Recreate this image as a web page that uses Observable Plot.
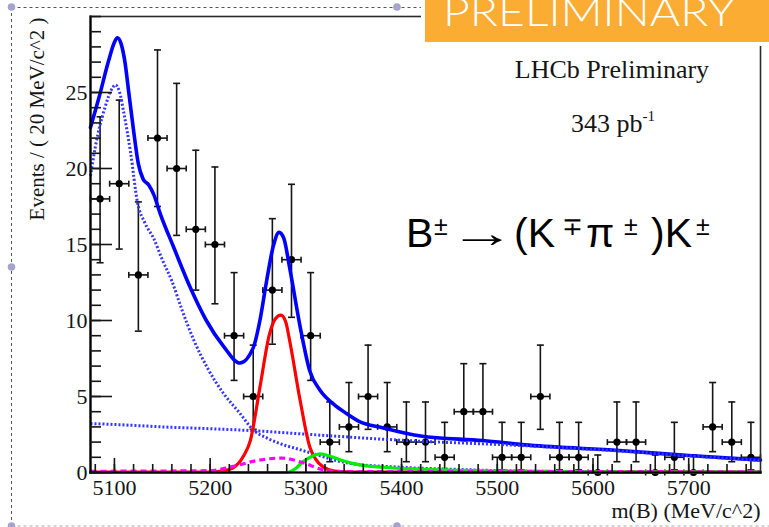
<!DOCTYPE html>
<html><head><meta charset="utf-8">
<script src="https://cdn.jsdelivr.net/npm/d3@7"></script>
<script src="https://cdn.jsdelivr.net/npm/@observablehq/plot@0.6"></script>
<style>
html,body{margin:0;padding:0;background:#fff;}
#chart{position:relative;width:769px;height:527px;overflow:hidden;}
</style>
</head><body><div id="chart"></div>
<script>
// ---- data ----
const binCenters = [5085,5105,5125,5145,5165,5185,5205,5225,5245,5265,5285,5305,5325,5345,5365,5385,5405,5425,5445,5465,5485,5505,5525,5545,5565,5585,5605,5625,5645,5665,5685,5705,5725,5745,5765];
const counts     = [18,19,13,22,20,16,15,9,5,12,14,9,2,3,5,3,2,2,1,4,4,1,1,5,1,1,0,2,2,0,1,0,3,2,1];
const errLow     = [13.8,14.7,9.3,17.5,15.6,12.0,11.1,6.06,2.84,8.44,10.21,6.06,0.71,1.37,2.84,1.37,0.71,0.71,0.17,2.09,2.09,0.17,0.17,2.84,0.17,0.17,0,0.71,0.71,0,0.17,0,1.37,0.71,0.17];
const errHigh    = [23.4,24.5,17.8,27.8,25.6,21.2,20.1,13.15,8.38,16.7,18.96,13.15,4.64,5.92,8.38,5.92,4.64,4.64,3.3,7.16,7.16,3.3,3.3,8.38,3.3,3.3,1.15,4.64,4.64,1.15,3.3,1.15,5.92,4.64,3.3];
const binHalfWidth = 10;

const xTickLabels = [5100,5200,5300,5400,5500,5600,5700];
const xMinorTicks = [5080,5100,5120,5140,5160,5180,5200,5220,5240,5260,5280,5300,5320,5340,5360,5380,5400,5420,5440,5460,5480,5500,5520,5540,5560,5580,5600,5620,5640,5660,5680,5700,5720,5740,5760];
const yTickLabels = [0,5,10,15,20,25];
const yMinorTicks = [0,1,2,3,4,5,6,7,8,9,10,11,12,13,14,15,16,17,18,19,20,21,22,23,24,25,26,27,28,29,30];

// total fit (blue solid)
const totalM = [5075,5084,5094,5100,5103,5107,5111,5115,5120,5125,5130,5136,5141,5148,5162,5179,5196,5214,5231,5245,5252,5259,5266,5272,5277,5283,5294,5304,5315,5329,5342,5356,5380,5420,5485,5533,5627,5700,5775];
const totalV = [22.7,24.7,27.1,28.3,28.6,28.2,27.0,25.0,22.5,20.3,19.3,18.9,18.3,17.0,14.8,12.2,10.0,8.3,7.2,8.2,10.0,12.6,14.9,15.8,15.4,13.5,9.6,6.7,5.4,4.5,3.9,3.35,2.95,2.4,2.1,1.8,1.45,1.12,0.82];
// partially reconstructed background (blue dotted, peaking)
const partM = [5075,5080,5090,5098,5101,5105,5110,5117,5124,5132,5141,5150,5160,5170,5183,5197,5214,5231,5245,5260,5273,5294,5315,5328,5346,5398,5460,5520,5600,5775];
const partV = [19.5,21.4,24.0,25.3,25.5,25.1,23.6,21.0,17.8,16.4,15.4,14.0,12.6,10.8,8.7,6.9,5.2,3.9,2.8,2.25,1.9,1.5,1.1,0.85,0.6,0.35,0.2,0.1,0.06,0.04];
// combinatorial background (blue dotted, flat)
const combM = [5075,5120,5150,5200,5245,5300,5400,5533,5627,5700,5775];
const combV = [3.22,3.1,3.0,2.88,2.75,2.52,2.12,1.75,1.42,1.1,0.8];
// signal (red)
const sigM = [5075,5200,5215,5224,5235,5242,5252,5262,5268,5274,5279,5283,5294,5304,5310,5318,5330,5350,5775];
const sigV = [0.02,0.03,0.12,0.3,1.1,2.1,5.6,9.1,10.1,10.35,9.9,8.7,4.75,1.7,0.9,0.37,0.1,0.03,0.02];
// magenta dashed component
const magM = [5075,5200,5222,5250,5275,5299,5320,5345,5775];
const magV = [0.08,0.12,0.37,0.8,0.95,0.6,0.15,0.06,0.05];
// green component
const grnM = [5075,5280,5290,5297,5306,5315,5325,5337,5350,5363,5380,5398,5420,5450,5500,5600,5775];
const grnV = [0,0,0.3,0.7,1.05,1.22,1.08,0.8,0.58,0.44,0.35,0.27,0.22,0.15,0.1,0.05,0.02];

// ---- build tables ----
const points = binCenters.map((m,i)=>({m, n: counts[i], lo: errLow[i], hi: errHigh[i]}));
const series = (ms, vs) => ms.map((m,i)=>({m, v: vs[i]}));

const hCap = {draw(ctx){ ctx.moveTo(-3.5,0); ctx.lineTo(3.5,0); }};
const vCap = {draw(ctx){ ctx.moveTo(0,-3); ctx.lineTo(0,3); }};

const serif = "'Liberation Serif','Times New Roman',serif";
const ink = "#151515";
const ebar = {stroke: ink, strokeWidth: 1.6};
const dotted = {stroke: "#3535ff", strokeWidth: 3, strokeDasharray: "2,2", strokeLinecap: "butt", curve: "monotone-x"};

const svg = Plot.plot({
  width: 769, height: 527,
  marginLeft: 90, marginRight: 9, marginTop: 16, marginBottom: 55,
  x: {domain: [5075, 5775]},
  y: {domain: [0, 30]},
  style: {fontFamily: serif, fontSize: "22px", color: ink, background: "white", overflow: "visible"},
  marks: [
    // data with error bars
    Plot.ruleX(points, {x: "m", y1: "lo", y2: "hi", ...ebar}),
    Plot.link(points, {x1: d => d.m - binHalfWidth, x2: d => d.m + binHalfWidth, y1: "n", y2: "n", ...ebar}),
    Plot.dot(points, {x: "m", y: "hi", symbol: hCap, fill: "none", ...ebar}),
    Plot.dot(points, {x: "m", y: "lo", symbol: hCap, fill: "none", ...ebar}),
    Plot.dot(points, {x: d => d.m - binHalfWidth, y: "n", symbol: vCap, fill: "none", ...ebar}),
    Plot.dot(points, {x: d => d.m + binHalfWidth, y: "n", symbol: vCap, fill: "none", ...ebar}),
    Plot.dot(points, {x: "m", y: "n", r: 3.6, fill: "#000", stroke: "none"}),
    // fit curves
    Plot.line(series(totalM, totalV), {x: "m", y: "v", stroke: "#0000ff", strokeWidth: 3.6, curve: "monotone-x"}),
    Plot.line(series(partM, partV), {x: "m", y: "v", ...dotted}),
    Plot.line(series(combM, combV), {x: "m", y: "v", ...dotted}),
    Plot.line(series(sigM, sigV), {x: "m", y: "v", stroke: "#ff0000", strokeWidth: 3.2, curve: "monotone-x"}),
    Plot.line(series(grnM, grnV), {x: "m", y: "v", stroke: "#00ee00", strokeWidth: 3.2, curve: "monotone-x"}),
    Plot.line(series(magM, magV), {x: "m", y: "v", stroke: "#ff00ff", strokeWidth: 3.2, strokeDasharray: "6,4", strokeLinecap: "butt", curve: "monotone-x"}),
    // frame and axes
    Plot.frame({stroke: "#2a2a2a", strokeWidth: 1.6}),
    Plot.frame({anchor: "left", stroke: "#000", strokeWidth: 2.2}),
    Plot.frame({anchor: "bottom", stroke: "#000", strokeWidth: 2.2}),
    Plot.axisY(yTickLabels, {tickSize: 0, tickPadding: 3, fontSize: 22, fontFamily: serif, label: null}),
    Plot.axisY(yTickLabels, {tickSize: 22, dx: 22, tickFormat: () => "", label: null, stroke: ink, strokeWidth: 1.6}),
    Plot.axisY(yMinorTicks, {tickSize: 11, dx: 11, tickFormat: () => "", label: null, stroke: ink, strokeWidth: 1.6}),
    Plot.axisX(xTickLabels, {tickSize: 0, tickPadding: 7, tickFormat: "d", fontSize: 22, fontFamily: serif, label: null}),
    Plot.axisX(xTickLabels, {tickSize: 14, dy: -14, tickFormat: () => "", label: null, stroke: ink, strokeWidth: 1.6}),
    Plot.axisX(xMinorTicks, {tickSize: 8, dy: -8, tickFormat: () => "", label: null, stroke: ink, strokeWidth: 1.6}),
    Plot.text(["Events / ( 20 MeV/c^2 )"], {frameAnchor: "top-left", rotate: -90, textAnchor: "end", lineAnchor: "middle", dx: -53, dy: 1, fontSize: 21, fontFamily: serif, fill: ink}),
    Plot.text(["m(B) (MeV/c^2)"], {frameAnchor: "bottom-right", textAnchor: "end", lineAnchor: "middle", dy: 38, fontSize: 22, fontFamily: serif, fill: ink})
  ]
});
document.getElementById("chart").appendChild(svg);

// ---- annotations and slide decoration ----
const s = d3.select(svg);
s.append("text").attr("x", 612).attr("y", 78).attr("text-anchor", "middle")
  .attr("font-family", serif).attr("font-size", 26).attr("fill", ink).text("LHCb Preliminary");
const t2 = s.append("text").attr("x", 613).attr("y", 132).attr("text-anchor", "middle")
  .attr("font-family", serif).attr("font-size", 26).attr("fill", ink);
t2.append("tspan").text("343 pb");
t2.append("tspan").attr("font-size", 15).attr("dy", -11).text("-1");

const sans = "'Liberation Sans', Arial, sans-serif";
const f = s.append("text").attr("font-family", sans).attr("fill", "#000").attr("font-size", 41).attr("text-anchor", "start");
const big = (x, txt) => f.append("tspan").attr("x", x).attr("y", 247).attr("font-size", 41).text(txt);
const sup = (x, txt) => f.append("tspan").attr("x", x).attr("y", 235).attr("font-size", 25).text(txt);
big(406, "B"); sup(434, "\u00B1");
big(514, "(K"); sup(562, "\u2213");
big(586, "\u03C0"); sup(624, "\u00B1"); big(651, ")K"); sup(696, "\u00B1");
s.append("text").attr("transform", "translate(449,247) scale(1.6,1)").attr("text-anchor", "start")
  .attr("font-family", sans).attr("font-size", 41).attr("fill", "#000").text("\u2192");

// selection frame of the slide object
const dash = "3,3";
s.append("line").attr("x1", 11.5).attr("x2", 11.5).attr("y1", 7).attr("y2", 526).attr("stroke", "#555").attr("stroke-dasharray", dash);
s.append("line").attr("x1", 11.5).attr("x2", 769).attr("y1", 7.5).attr("y2", 7.5).attr("stroke", "#555").attr("stroke-dasharray", dash);
s.append("line").attr("x1", 11.5).attr("x2", 769).attr("y1", 526).attr("y2", 526).attr("stroke", "#aaa").attr("stroke-dasharray", dash);
// PRELIMINARY banner
s.append("rect").attr("x", 421).attr("y", 0).attr("width", 348).attr("height", 46).attr("fill", "#fff");
s.append("rect").attr("x", 425).attr("y", 0).attr("width", 344).attr("height", 42).attr("fill", "#fbac33");
s.append("text").attr("x", 443).attr("y", 26).attr("text-anchor", "start").attr("font-family", "Lato, 'Open Sans', sans-serif").attr("font-weight", 300)
  .attr("font-size", 40).attr("fill", "#fff").attr("textLength", 292).attr("lengthAdjust", "spacingAndGlyphs").text("PRELIMINARY");
// handles
[[11.5,7],[397,7],[11.5,267],[11.5,526],[397,526]].forEach(([x,y]) =>
  s.append("circle").attr("cx", x).attr("cy", y).attr("r", 3.8).attr("fill", "#a4a4cc"));
</script>
</body></html>
